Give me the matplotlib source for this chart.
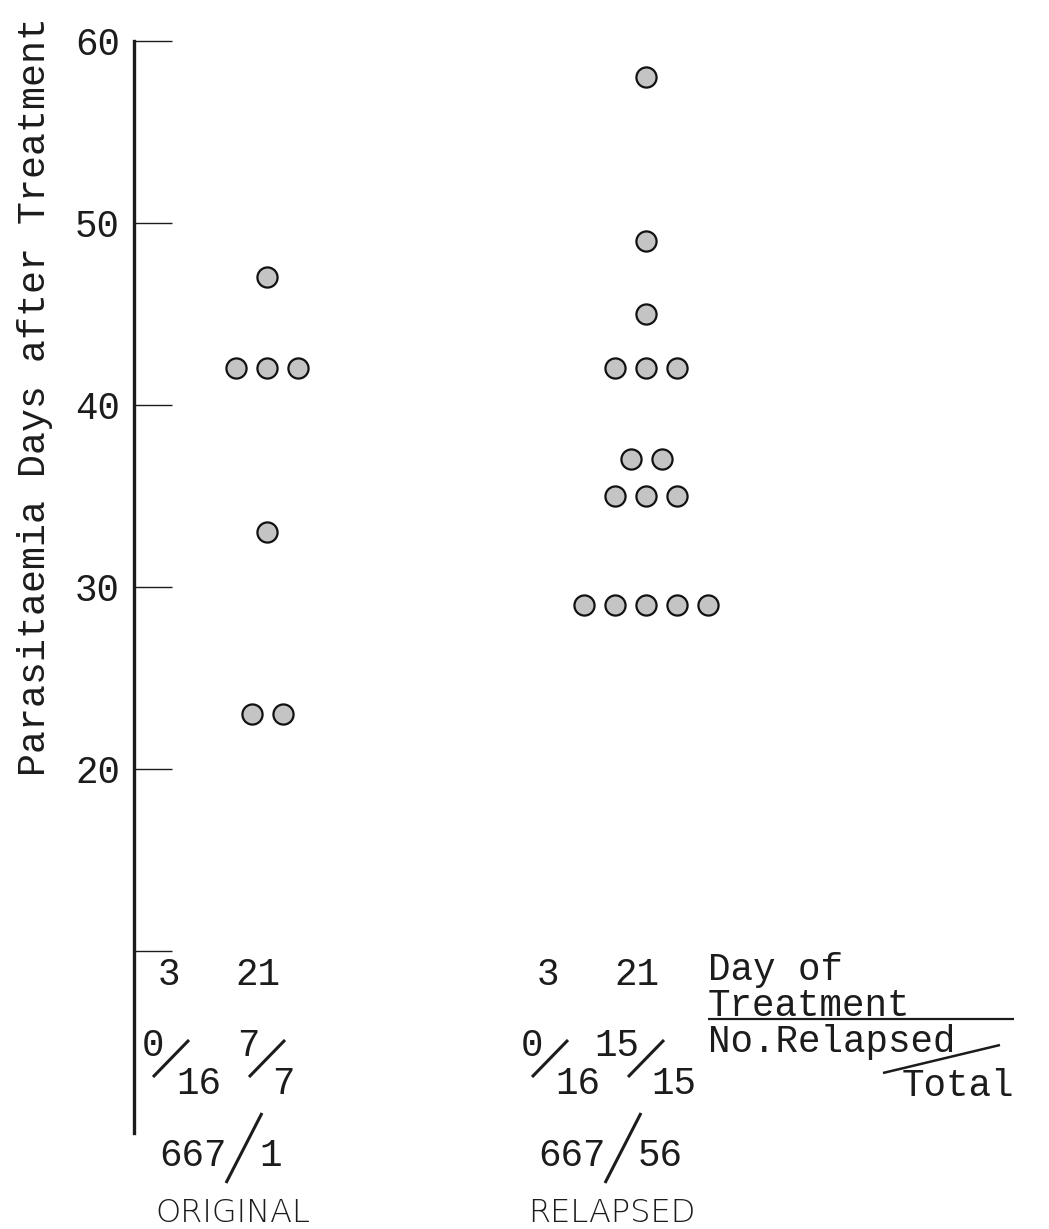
"""Relapse times after treatment: original vs relapsed strain, dot plot."""

from collections import Counter

import matplotlib

matplotlib.use("Agg")
import matplotlib.pyplot as plt
import matplotlib.transforms as mtransforms
from matplotlib.lines import Line2D

W, H = 1049, 1229  # figure size in pixels (dpi 100)
Y60_PX = 40.7  # pixel row of the 60-day tick
PX_PER_DAY = 18.2
SPINE_X = 134
DOT_STEP = 31  # horizontal spacing of dots that share a value

# parasitaemia day of each animal, per strain
original_days = [47, 42, 42, 42, 33, 23, 23]
relapsed_days = [58, 49, 45, 42, 42, 42, 37, 37, 35, 35, 35, 29, 29, 29, 29, 29]

group_names = ["ORIGINAL", "RELAPSED"]
group_days = [original_days, relapsed_days]
group_centres = [267, 646]

treat_days = ["3", "21"]
relapsed_frac = [[("0", "16"), ("7", "7")], [("0", "16"), ("15", "15")]]
strain_ids = [("667", "1"), ("667", "56")]

y_ticks = [10, 20, 30, 40, 50, 60]
y_ticklabels = ["", "20", "30", "40", "50", "60"]

MONO = "Liberation Mono"
INK = "#1c1c1c"

fig = plt.figure(figsize=(W / 100, H / 100), dpi=100)
ax = fig.add_axes([0, 0, 1, 1])
ax.set_xlim(0, W)
ax.set_ylim(60 - (H - Y60_PX) / PX_PER_DAY, 60 + Y60_PX / PX_PER_DAY)
ax.patch.set_visible(False)

for side in ("top", "right", "bottom"):
    ax.spines[side].set_visible(False)
ax.spines["left"].set_position(("data", SPINE_X))
ax.spines["left"].set_bounds(0, 60)
ax.spines["left"].set_linewidth(2.4)
ax.spines["left"].set_color(INK)
ax.xaxis.set_visible(False)
ax.set_yticks(y_ticks)
ax.set_yticklabels(y_ticklabels)
ax.tick_params(axis="y", direction="in", length=27, width=1.0, pad=10,
               labelsize=27, labelfontfamily=MONO, colors=INK)

# stack dots sharing a value side by side around the group centre
for days, cx in zip(group_days, group_centres):
    xs, ys = [], []
    for value, n in Counter(days).items():
        for i in range(n):
            xs.append(cx + (i - (n - 1) / 2) * DOT_STEP)
            ys.append(value)
    ax.scatter(xs, ys, s=14.5 ** 2, facecolor="#c4c4c4", edgecolor="#111111",
               linewidth=1.6, zorder=3)

# annotations positioned in pixels from the top-left corner
top = mtransforms.Affine2D().scale(1, -1).translate(0, H)


def label(x, y, s, **kw):
    kw.setdefault("family", MONO)
    kw.setdefault("fontsize", 27)
    kw.setdefault("color", INK)
    kw.setdefault("va", "baseline")
    fig.text(x, y, s, transform=top, **kw)


def slash(x0, y0, x1, y1, lw=2.2):
    fig.add_artist(Line2D([x0, x1], [y0, y1], transform=top, color=INK,
                          lw=lw, solid_capstyle="butt"))


label(45, 396, "Parasitaemia Days after Treatment", fontsize=27.5,
      rotation=90, rotation_mode="anchor", ha="center")

day_offsets = [-98, -9]
frac_offsets = [-96, 0]
for g, cx in enumerate(group_centres):
    for k, day in enumerate(treat_days):
        label(cx + day_offsets[k], 985, day, ha="center")
        num, den = relapsed_frac[g][k]
        sc = cx + frac_offsets[k]
        label(sc - 7, 1056, num, ha="right")
        label(sc + 5, 1094, den, ha="left")
        slash(sc - 18, 1077, sc + 18, 1040)
    sc = cx - 23
    label(sc - 17, 1166, strain_ids[g][0], ha="right")
    label(sc + 15, 1166, strain_ids[g][1], ha="left")
    slash(sc - 18, 1183, sc + 18, 1113)
    label(cx - 34, 1222, group_names[g], family="DejaVu Sans", fontsize=23,
          weight="light", ha="center")

# key on the right
label(708, 980, "Day of", ha="left")
label(708, 1016, "Treatment", ha="left")
slash(708, 1019, 1014, 1019, lw=1.6)
label(708, 1052, "No.Relapsed", ha="left")
slash(883, 1073, 1000, 1045, lw=1.8)
label(1014, 1096, "Total", ha="right")

fig.savefig("out.png", dpi=100)
